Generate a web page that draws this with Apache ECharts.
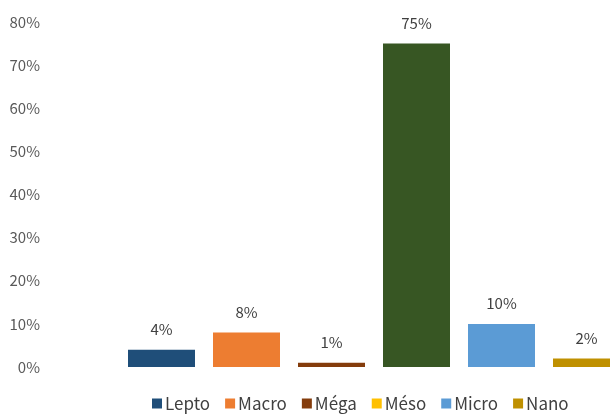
<!DOCTYPE html>
<html>
<head>
<meta charset="utf-8">
<script src="https://cdn.jsdelivr.net/npm/echarts@6/dist/echarts.min.js"></script>
<style>
  html, body { margin: 0; padding: 0; background: #fff; }
  #chart { width: 610px; height: 415px; }
</style>
</head>
<body>
<div id="chart"></div>
<script>
// Share of each size class (percent)
const categories = ['Lepto', 'Macro', 'Méga', 'Méso', 'Micro', 'Nano'];
const values = [4, 8, 1, 75, 10, 2];
const legendColors = ['#1F4E79', '#ED7D31', '#843C0C', '#FFC000', '#5B9BD5', '#BF9000'];
const barColors = ['#1F4E79', '#ED7D31', '#843C0C', '#375623', '#5B9BD5', '#BF9000'];
const yTicks = { min: 0, max: 80, step: 10 };

const font = '"Noto Sans CJK SC", "Noto Sans", sans-serif';

const series = categories.map((name, i) => ({
  name: name,
  type: 'bar',
  barWidth: 67,
  barGap: '-100%',
  color: legendColors[i],
  data: values.map((v, j) => j === i ? { value: v, itemStyle: { color: barColors[i] } } : '-'),
  label: {
    show: true,
    position: 'top',
    distance: 13,
    formatter: '{c}%',
    color: '#404040',
    fontSize: 15,
    fontFamily: font
  }
}));

const chart = echarts.init(document.getElementById('chart'), null, { renderer: 'canvas' });
chart.setOption({
  animation: false,
  backgroundColor: '#fff',
  // the plot runs past the right edge, so the last bar is clipped
  grid: {
    left: 119, width: 510, top: 22, bottom: 48,
    containLabel: false,
    outerBoundsMode: 'none'
  },
  legend: {
    left: 147,
    top: 390,
    itemWidth: 10,
    itemHeight: 10,
    itemGap: 15,
    icon: 'rect',
    textStyle: { color: '#404040', fontSize: 17, fontFamily: font, padding: [0, 0, 0, -2] },
    data: categories
  },
  xAxis: {
    type: 'category',
    data: categories,
    axisLine: { show: false },
    axisTick: { show: false },
    axisLabel: { show: false }
  },
  yAxis: {
    type: 'value',
    min: yTicks.min,
    max: yTicks.max,
    interval: yTicks.step,
    splitLine: { show: false },
    axisLine: { show: false },
    axisTick: { show: false },
    axisLabel: {
      formatter: '{value}%',
      margin: 79,
      color: '#595959',
      fontSize: 15,
      fontFamily: font
    }
  },
  series: series
});
</script>
</body>
</html>
